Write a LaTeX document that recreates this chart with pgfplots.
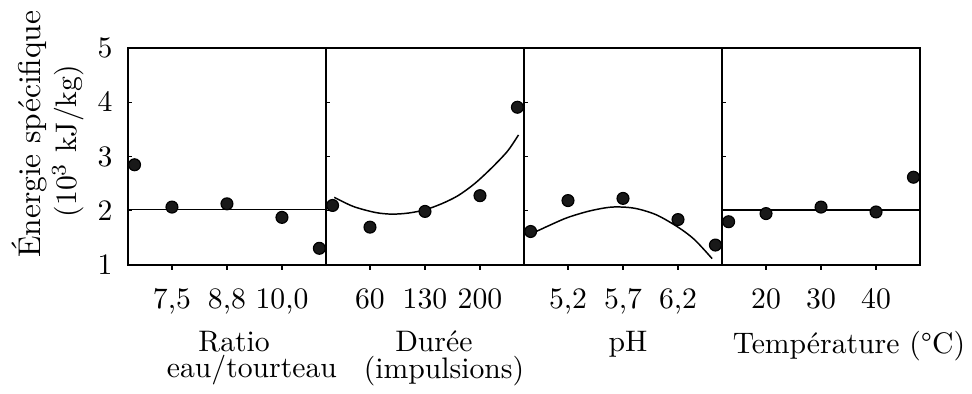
\documentclass[border=0pt]{standalone}
\usepackage{pgfplots}
\pgfplotsset{compat=1.18}
\begin{document}
\begin{tikzpicture}
\path[use as bounding box] (-43.1pt,-43.1pt) rectangle (284.3pt,89.3pt);
\pgfplotsset{
  panel/.style={
    scale only axis, width=66.7pt, height=73.1pt,
    xmin=-1.8, xmax=1.8, ymin=1, ymax=5,
    xtick={-1,0,1}, ytick={1,2,3,4,5},
    anchor=south west,
    axis line style={line width=0.5pt},
    tick style={black, line width=0.4pt},
    major tick length=1.5pt,
    xtick pos=bottom, ytick pos=left,
    xtick align=outside, ytick align=inside,
    xticklabel style={yshift=-2.8pt},
    yticklabel style={xshift=-1.7pt},
    xlabel style={at={(axis description cs:0.5,0)}, anchor=north, inner sep=0pt, yshift=-21.9pt, align=center},
    clip=false,
  },
  pts/.style={only marks, mark=*, mark size=2pt, mark options={fill=black!90, draw=black}},
  fitl/.style={black, line width=0.5pt, no marks, smooth},
}
% Panel 1: Ratio eau/tourteau
\begin{axis}[panel, at={(0pt,0pt)},
  xticklabels={{7,5},{8,8},{10,0}},
  xlabel={Ratio\\[-3pt]\hspace*{12pt}eau/tourteau},
  xlabel style={xshift=2.4pt},
  ylabel={\hspace*{4.7pt}{\fontsize{10.6}{12}\selectfont Énergie spécifique}\\(10$^3$ kJ/kg)},
  ylabel style={at={(axis description cs:-0.220,0.571)}, anchor=south, inner sep=0pt, align=center},
]
\addplot[fitl] coordinates {(-1.8,2.03) (1.8,2.03)};
\addplot[pts] coordinates {(-1.68,2.85) (-1,2.07) (0,2.13) (1,1.88) (1.68,1.31)};
\end{axis}
% Panel 2: Durée
\begin{axis}[panel, at={(66.7pt,0pt)}, yticklabels={},
  xticklabels={60,130,200},
  xlabel={Durée\\[-3pt]\hspace*{6.8pt}(impulsions)},
  xlabel style={xshift=3pt},
]
\addplot[fitl] coordinates {(-1.65,2.25) (-1.3,2.08) (-0.9,1.97) (-0.6,1.94) (-0.3,1.96) (0,2.02) (0.3,2.13) (0.6,2.28) (0.9,2.50) (1.2,2.78) (1.5,3.10) (1.70,3.40)};
\addplot[pts] coordinates {(-1.68,2.10) (-1,1.70) (0,1.99) (1,2.28) (1.68,3.91)};
\end{axis}
% Panel 3: pH
\begin{axis}[panel, at={(133.4pt,0pt)}, yticklabels={},
  xticklabels={{5,2},{5,7},{6,2}},
  xlabel={pH},
  xlabel style={xshift=1.7pt},
]
\addplot[fitl] coordinates {(-1.62,1.60) (-1.3,1.75) (-1.0,1.88) (-0.6,2.00) (-0.2,2.07) (0.2,2.05) (0.6,1.93) (1.0,1.70) (1.3,1.47) (1.62,1.12)};
\addplot[pts] coordinates {(-1.68,1.62) (-1,2.19) (0,2.23) (1,1.84) (1.68,1.37)};
\end{axis}
% Panel 4: Température
\begin{axis}[panel, at={(200.1pt,0pt)}, yticklabels={},
  xticklabels={20,30,40},
  xlabel={Température (\textdegree C)},
  xlabel style={xshift=9.4pt},
]
\addplot[fitl] coordinates {(-1.8,2.02) (1.8,2.02)};
\addplot[pts] coordinates {(-1.68,1.80) (-1,1.95) (0,2.07) (1,1.98) (1.68,2.62)};
\end{axis}
\end{tikzpicture}
\end{document}
